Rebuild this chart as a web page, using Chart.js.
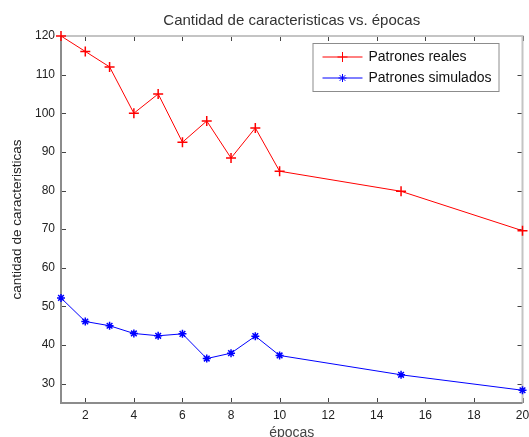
<!DOCTYPE html>
<html>
<head>
<meta charset="utf-8">
<script src="https://cdn.jsdelivr.net/npm/chart.js@4/dist/chart.umd.min.js"></script>
<style>
    html, body { margin: 0; padding: 0; background: #fff; }
    canvas { display: block; }
</style>
</head>
<body>
<canvas id="epocasChart" width="529" height="437"></canvas>
<script>
// Datos
const epocas = [1, 2, 3, 4, 5, 6, 7, 8, 9, 10, 15, 20];
const patronesReales = [120, 116, 112, 100, 105, 92.5, 98, 88.4, 96.2, 85, 79.8, 69.6];
const patronesSimulados = [52.2, 46.1, 45, 43, 42.4, 42.9, 36.5, 37.9, 42.3, 37.3, 32.3, 28.3];
const xTicks = [2, 4, 6, 8, 10, 12, 14, 16, 18, 20];
const yTicks = [30, 40, 50, 60, 70, 80, 90, 100, 110, 120];

const FONT = 'Arial, "Liberation Sans", Helvetica, sans-serif';

function toPoints(values) {
    return epocas.map((x, i) => ({ x: x, y: values[i] }));
}

// Marco con marcas hacia dentro (estilo MATLAB)
const framePlugin = {
    id: 'frame',
    beforeDatasetsDraw(chart) {
        const { ctx, chartArea: a, scales } = chart;
        ctx.save();
        ctx.lineWidth = 1;
        ctx.strokeStyle = '#444';
        ctx.beginPath();
        xTicks.forEach(v => {
            const px = Math.round(scales.x.getPixelForValue(v)) + 0.5;
            ctx.moveTo(px, a.bottom); ctx.lineTo(px, a.bottom - 5);
            ctx.moveTo(px, a.top); ctx.lineTo(px, a.top + 5);
        });
        yTicks.forEach(v => {
            const py = Math.round(scales.y.getPixelForValue(v)) + 0.5;
            ctx.moveTo(a.left, py); ctx.lineTo(a.left + 5, py);
            ctx.moveTo(a.right, py); ctx.lineTo(a.right - 5, py);
        });
        ctx.stroke();

        ctx.lineWidth = 2;
        ctx.strokeStyle = '#c4c4c4';
        ctx.beginPath();
        ctx.moveTo(a.left, a.top); ctx.lineTo(a.right, a.top); ctx.lineTo(a.right, a.bottom);
        ctx.stroke();
        ctx.strokeStyle = '#8c8c8c';
        ctx.beginPath();
        ctx.moveTo(a.left, a.top); ctx.lineTo(a.left, a.bottom); ctx.lineTo(a.right, a.bottom);
        ctx.stroke();
        ctx.restore();
    }
};

// Leyenda en recuadro dentro del area
const boxLegendPlugin = {
    id: 'boxLegend',
    afterDraw(chart) {
        const { ctx, chartArea: a } = chart;
        const bx = a.right - 210, by = a.top + 7, bw = 186, bh = 48;
        ctx.save();
        ctx.fillStyle = '#fff';
        ctx.fillRect(bx, by, bw, bh);
        ctx.lineWidth = 1;
        ctx.strokeStyle = '#8c8c8c';
        ctx.strokeRect(bx + 0.5, by + 0.5, bw, bh);

        chart.data.datasets.forEach((ds, i) => {
            const y = by + 14 + i * 21;
            ctx.strokeStyle = ds.borderColor;
            ctx.lineWidth = 1;
            ctx.beginPath();
            ctx.moveTo(bx + 10, y); ctx.lineTo(bx + 50, y);
            ctx.stroke();
            Chart.helpers.drawPoint(ctx, {
                pointStyle: ds.pointStyle,
                radius: ds.pointRadius,
                borderWidth: ds.pointBorderWidth,
                rotation: 0
            }, bx + 30, y);
            ctx.fillStyle = '#111';
            ctx.font = '14px ' + FONT;
            ctx.textAlign = 'left';
            ctx.textBaseline = 'middle';
            ctx.fillText(ds.label, bx + 56, y);
        });
        ctx.restore();
    }
};

const ctx = document.getElementById('epocasChart').getContext('2d');
const epocasChart = new Chart(ctx, {
    type: 'line',
    data: {
        datasets: [
            {
                label: 'Patrones reales',
                data: toPoints(patronesReales),
                borderColor: 'rgb(255, 0, 0)',
                backgroundColor: 'rgb(255, 0, 0)',
                borderWidth: 1,
                pointStyle: 'cross',
                pointRadius: 5,
                pointBorderWidth: 1.5,
                tension: 0,
                clip: false
            },
            {
                label: 'Patrones simulados',
                data: toPoints(patronesSimulados),
                borderColor: 'rgb(0, 0, 255)',
                backgroundColor: 'rgb(0, 0, 255)',
                borderWidth: 1,
                pointStyle: 'star',
                pointRadius: 4,
                pointBorderWidth: 1.5,
                tension: 0,
                clip: false
            }
        ]
    },
    options: {
        responsive: false,
        animation: false,
        layout: { padding: { left: 0, right: 4, top: 0, bottom: 0 } },
        plugins: {
            legend: { display: false },
            tooltip: { enabled: false },
            title: {
                display: true,
                text: 'Cantidad de caracteristicas vs. épocas',
                color: '#333',
                font: { family: FONT, size: 15, weight: 'normal' },
                padding: { top: 12, bottom: 6 },
                fullSize: false
            }
        },
        scales: {
            x: {
                type: 'linear',
                min: 1,
                max: 20,
                afterBuildTicks: s => { s.ticks = xTicks.map(v => ({ value: v })); },
                afterFit: s => { s.height = 34; s.paddingLeft = 0; s.paddingRight = 0; },
                grid: { display: false, drawTicks: false },
                border: { display: false },
                ticks: { color: '#222', padding: 5, maxRotation: 0, font: { family: FONT, size: 12 } },
                title: {
                    display: true,
                    text: 'épocas',
                    color: '#444',
                    font: { family: FONT, size: 14 },
                    padding: { top: 0, bottom: -4.4 }
                }
            },
            y: {
                min: 25,
                max: 120,
                afterBuildTicks: s => { s.ticks = yTicks.map(v => ({ value: v })); },
                afterFit: s => { s.width = 61; s.paddingTop = 0; s.paddingBottom = 0; },
                grid: { display: false, drawTicks: false },
                border: { display: false },
                ticks: { color: '#222', padding: 6, font: { family: FONT, size: 12 } },
                title: {
                    display: true,
                    text: 'cantidad de caracteristicas',
                    color: '#222',
                    font: { family: FONT, size: 13.5 },
                    padding: { top: 8.9, bottom: 0 }
                }
            }
        }
    },
    plugins: [framePlugin, boxLegendPlugin]
});
</script>
</body>
</html>
